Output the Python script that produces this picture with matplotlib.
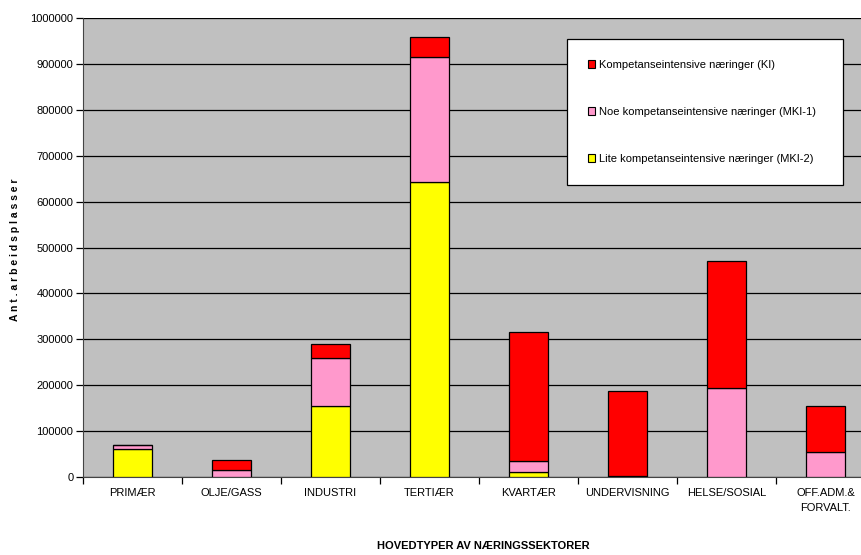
import matplotlib
matplotlib.use("Agg")
import matplotlib.pyplot as plt
import numpy as np
from matplotlib import font_manager as fm

names = {f.name for f in fm.fontManager.ttflist}
FONT = "Liberation Sans Narrow" if "Liberation Sans Narrow" in names else "Liberation Sans"
plt.rcParams['font.family'] = [FONT, 'DejaVu Sans']

categories = ["PRIMÆR", "OLJE/GASS", "INDUSTRI", "TERTIÆR", "KVARTÆR",
              "UNDERVISNING", "HELSE/SOSIAL", "OFF.ADM.&\nFORVALT."]
lite = [62000, 1000, 155000, 643000, 10000, 0, 0, 0]
noe = [7000, 15000, 104000, 272000, 25000, 2000, 193000, 54000]
ki = [1000, 21000, 31000, 44000, 281000, 186000, 278000, 101000]

series_names = ["Kompetanseintensive næringer (KI)",
                "Noe kompetanseintensive næringer (MKI-1)",
                "Lite kompetanseintensive næringer (MKI-2)"]
colors = {"ki": "#FF0000", "noe": "#FF99CC", "lite": "#FFFF00"}

fig = plt.figure(figsize=(8.61, 5.55), dpi=100)
# plot area: x 83..875 px, y 18..477 px
W, H = 861, 555
AX0, AX1, AY0, AY1 = 83, 875, 18, 477
ax = fig.add_axes([AX0 / W, 1 - AY1 / H, (AX1 - AX0) / W, (AY1 - AY0) / H])
ax.set_facecolor("#C0C0C0")

x = np.arange(len(categories))
lite_a = np.array(lite)
noe_a = np.array(noe)
ki_a = np.array(ki)
bw = 0.40
ek = dict(edgecolor="black", linewidth=0.9, zorder=3)
b1 = ax.bar(x, lite_a, bw, color=colors["lite"], **ek)
b2 = ax.bar(x, noe_a, bw, bottom=lite_a, color=colors["noe"], **ek)
b3 = ax.bar(x, ki_a, bw, bottom=lite_a + noe_a, color=colors["ki"], **ek)

ax.set_xlim(-0.5, len(categories) - 0.5)
ax.set_ylim(0, 1000000)
ax.set_yticks(np.arange(0, 1000001, 100000))
ax.set_yticklabels([str(v) for v in range(0, 1000001, 100000)], fontsize=8)
ax.yaxis.grid(True, color="black", linewidth=0.9)
ax.set_axisbelow(True)

ax.set_xticks(x)
ax.set_xticklabels(categories, fontsize=8, linespacing=1.6, va="top")
ax.set_xticks(np.arange(-0.5, len(categories), 1), minor=True)
ax.tick_params(axis="x", which="major", length=0, pad=8)
ax.tick_params(axis="x", which="minor", length=5, width=0.9, direction="out")
ax.tick_params(axis="y", length=5, width=0.9, direction="out", pad=2)

for s in ["top", "right"]:
    ax.spines[s].set_visible(False)
ax.spines["left"].set_color("#444444")
ax.spines["bottom"].set_color("#444444")

fig.text((AX0 + 400) / W, 1 - 546 / H, "HOVEDTYPER AV NÆRINGSSEKTORER",
         ha="center", va="center", fontsize=8, fontweight="bold")
fig.text(15 / W, 1 - 250 / H, "A n t . a r b e i d s p l a s s e r", rotation=90,
         ha="center", va="center", fontsize=7.5, fontweight="bold")

lx0, lx1, ly0, ly1 = 567, 843, 39, 183
axw, axh = AX1 - AX0, AY1 - AY0
leg = ax.legend([b3, b2, b1], series_names, loc="upper left",
                bbox_to_anchor=((lx0 - AX0) / axw, 1 - (ly1 - AY0) / axh,
                                (lx1 - lx0) / axw, (ly1 - ly0) / axh),
                mode="expand", fontsize=8, frameon=True, fancybox=False,
                framealpha=1, facecolor="white",
                handlelength=0.7, handleheight=0.7, handletextpad=0.35,
                labelspacing=3.35, borderpad=1.85, borderaxespad=0)
leg.set_zorder(10)
leg.get_frame().set_edgecolor("black")
leg.get_frame().set_linewidth(0.9)
for h in leg.legend_handles:
    h.set_edgecolor("black")
    h.set_linewidth(0.8)

fig.savefig("out.png", dpi=100, facecolor="white")
